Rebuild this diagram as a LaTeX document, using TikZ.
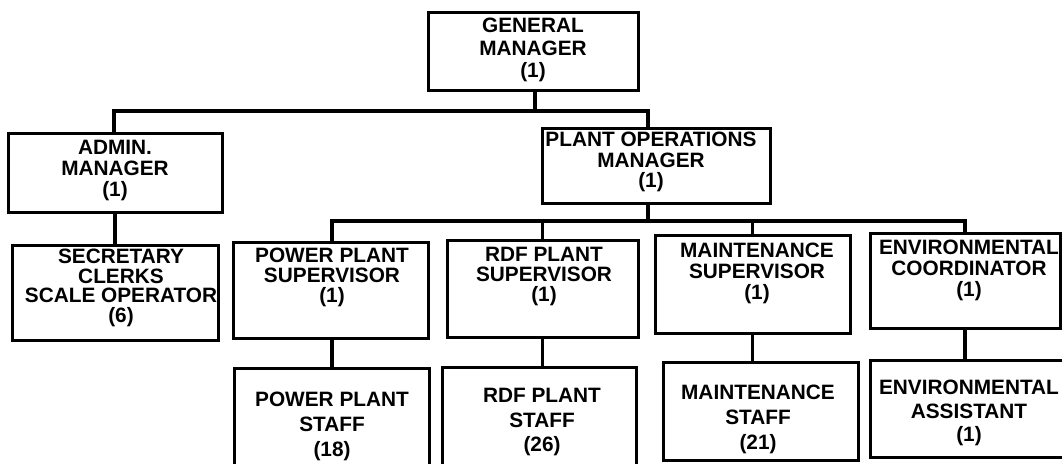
\documentclass[tikz,border=0pt]{standalone}
\usepackage{fontspec}
\setmainfont{Liberation Sans}
\begin{document}
\begin{tikzpicture}[x=1pt,y=-1pt,
  box/.style={draw=black, line width=3pt, rectangle, inner sep=0pt},
  conn/.style={draw=black, line width=3.5pt},
  lbl/.style={font=\bfseries\fontsize{20.8}{#1}\selectfont, align=center, inner sep=0pt, anchor=north},
  lbl/.default=21]
\path[use as bounding box, clip] (0,0) rectangle (1062,463);
\fill[white] (0,0) rectangle (1062,463);
% boxes
\node[box, minimum width=210, minimum height=78] (gm) at (533,51) {};
\node[box, minimum width=214, minimum height=79] (adm) at (115,172.5) {};
\node[box, minimum width=206, minimum height=95] (sec) at (115,292.5) {};
\node[box, minimum width=228, minimum height=75] (po) at (656,165.5) {};
\node[box, minimum width=195, minimum height=96] (pps) at (330.5,290) {};
\node[box, minimum width=191, minimum height=97] (rdfs) at (542.5,288.5) {};
\node[box, minimum width=195, minimum height=98] (mns) at (752.5,284) {};
\node[box, minimum width=190, minimum height=95] (envc) at (965,280.5) {};
\node[box, minimum width=195, minimum height=112] (ppst) at (331.5,424) {};
\node[box, minimum width=194, minimum height=113] (rdfst) at (539,423.5) {};
\node[box, minimum width=195, minimum height=98] (mnst) at (760.5,411) {};
\node[box, minimum width=200, minimum height=97] (enva) at (970,408.5) {};
% texts
\node[lbl=22.5] (tgm) at (533,18) {GENERAL\\MANAGER\\(1)};
\node[lbl=21] (tadm) at (115,140) {ADMIN.\\MANAGER\\(1)};
\node[lbl=19.6] (tsec) at (121,249) {SECRETARY\\CLERKS\\SCALE OPERATOR\\(6)};
\node[lbl=20.5] (tpo) at (651,132) {PLANT OPERATIONS\\MANAGER\\(1)};
\node[lbl=20] (tpps) at (332,248) {POWER PLANT\\SUPERVISOR\\(1)};
\node[lbl=20] (trdfs) at (544,247) {RDF PLANT\\SUPERVISOR\\(1)};
\node[lbl=21] (tmns) at (757,243) {MAINTENANCE\\SUPERVISOR\\(1)};
\node[lbl=21] (tenvc) at (969,240) {ENVIRONMENTAL\\COORDINATOR\\(1)};
\node[lbl=25] (tppst) at (332,392) {POWER PLANT\\STAFF\\(18)};
\node[lbl=24.5] (trdfst) at (542,388) {RDF PLANT\\STAFF\\(26)};
\node[lbl=25] (tmnst) at (758,385) {MAINTENANCE\\STAFF\\(21)};
\node[lbl=23.5] (tenva) at (969,380) {ENVIRONMENTAL\\ASSISTANT\\(1)};
% connectors
\coordinate (j1) at (535,111);
\coordinate (j2) at (648,221);
\draw[conn] ([xshift=2]gm.south) -- (j1);
\draw[conn] ([xshift=-1]adm.north) |- (j1) -| ([xshift=-8]po.north);
\draw[conn] ([xshift=-8]po.south) -- (j2);
\draw[conn] ([xshift=1.5]pps.north) |- (j2) -| (envc.north);
\draw[conn] (rdfs.north) -- (rdfs.north |- j2);
\draw[conn] (mns.north) -- (mns.north |- j2);
\draw[conn] (adm.south) -- (adm.south |- sec.north);
\draw[conn] ([xshift=1.5]pps.south) -- ([xshift=1.5]pps.south |- ppst.north);
\draw[conn] (rdfs.south) -- (rdfs.south |- rdfst.north);
\draw[conn] (mns.south) -- (mns.south |- mnst.north);
\draw[conn] (envc.south) -- (envc.south |- enva.north);
\end{tikzpicture}
\end{document}
